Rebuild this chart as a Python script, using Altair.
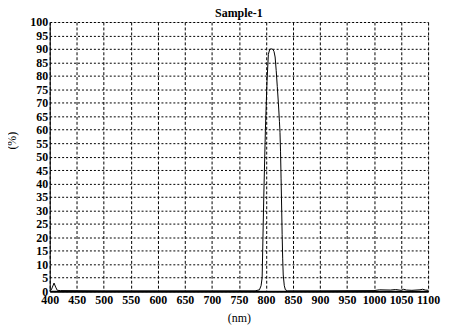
import altair as alt
import pandas as pd

wavelength = [400, 403, 405, 408, 411, 414, 420, 500, 600, 700, 780, 788, 791, 793, 796, 799, 802, 804.5, 807,
              809, 811, 813, 815, 817, 819, 821, 823, 825, 826, 827, 828, 829, 830, 831, 832, 834, 836, 840,
              900, 1000, 1010, 1030, 1040, 1050, 1055, 1060, 1070, 1085, 1090, 1095, 1100]
transmission = [0.3, 0.5, 1.5, 3.0, 1.5, 0.3, 0.2, 0.1, 0.1, 0.1, 0.1, 0.5, 2.0, 5.0, 35.0, 60.0, 78.0, 88.0, 89.8,
                90.0, 90.0, 89.8, 89.0, 87.0, 82.0, 76.0, 70.0, 63.0, 59.0, 52.0, 42.0, 32.0, 21.0, 12.0, 6.0, 2.0, 0.5, 0.1,
                0.1, 0.2, 0.5, 0.4, 0.6, 0.3, 0.7, 0.4, 0.3, 0.5, 0.7, 0.4, 0.3]

x_ticks = list(range(400, 1101, 50))
y_ticks = list(range(0, 101, 5))

df = pd.DataFrame({"nm": wavelength, "T": transmission})

FONT = "Liberation Serif"

chart = alt.Chart(df).mark_line(color="black", strokeWidth=1).encode(
    x=alt.X("nm:Q",
            scale=alt.Scale(domain=[400, 1100], nice=False, zero=False),
            axis=alt.Axis(values=x_ticks, format="d", title="(nm)", ticks=False, labelPadding=3,
                          labelFont=FONT, labelFontSize=12, labelFontWeight="bold", labelColor="black",
                          titleFont=FONT, titleFontSize=12, titleFontWeight="normal", titleColor="black",
                          titlePadding=8, domainColor="black", domainWidth=2,
                          grid=True, gridColor="black", gridDash=[3, 2], gridOpacity=1, gridWidth=1,
                          labelFlush=False, labelOverlap=False)),
    y=alt.Y("T:Q",
            scale=alt.Scale(domain=[0, 100], nice=False),
            axis=alt.Axis(values=y_ticks, title="(%)", ticks=False, labelPadding=2,
                          labelFont=FONT, labelFontSize=12, labelFontWeight="bold", labelColor="black",
                          titleFont=FONT, titleFontSize=12, titleFontWeight="normal", titleColor="black",
                          titleX=-38, titleY=119, titleBaseline="middle", titleAlign="center",
                          domainColor="black", domainWidth=1,
                          grid=True, gridColor="black", gridDash=[2, 2], gridOpacity=1, gridWidth=1,
                          labelFlush=False, labelOverlap=False)),
).properties(
    width=381,
    height=271,
    title=alt.TitleParams("Sample-1", font=FONT, fontSize=12, fontWeight="bold", color="black", offset=-4),
    autosize=alt.AutoSizeParams(type="none"),
    padding={"left": 42, "top": 13, "right": 14, "bottom": 35},
).configure_view(
    stroke="black", strokeWidth=1
).configure(background="white")

chart.save("out.html", embed_options={"renderer": "svg", "actions": False})
